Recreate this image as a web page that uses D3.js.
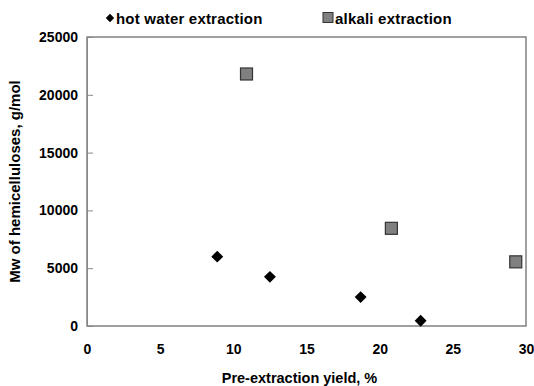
<!DOCTYPE html>
<html>
<head>
<meta charset="utf-8">
<script src="https://cdn.jsdelivr.net/npm/d3@7"></script>
<style>
  body { margin: 0; background: #fff; }
  text { font-family: "Liberation Sans", Arial, sans-serif; font-weight: bold; fill: #000; }
</style>
</head>
<body>
<script>
// data
const hotWaterYield = [8.9, 12.5, 18.7, 22.8];
const hotWaterMw = [6000, 4250, 2500, 450];
const alkaliYield = [10.9, 20.8, 29.3];
const alkaliMw = [21800, 8450, 5550];
const xTicks = [0, 5, 10, 15, 20, 25, 30];
const yTicks = [0, 5000, 10000, 15000, 20000, 25000];

const W = 534, H = 386;
const margin = { top: 37, right: 8, bottom: 60, left: 87 };
const width = W - margin.left - margin.right;
const height = H - margin.top - margin.bottom;

const svg = d3.select("body").append("svg")
  .attr("width", W)
  .attr("height", H);

const g = svg.append("g")
  .attr("transform", "translate(" + margin.left + "," + margin.top + ")");

const x = d3.scaleLinear().domain([0, 30]).range([0, width]);
const y = d3.scaleLinear().domain([0, 25000]).range([height, 0]);

// plot frame
g.append("rect")
  .attr("width", width)
  .attr("height", height)
  .attr("fill", "none")
  .attr("stroke", "#6e6e6e")
  .attr("stroke-width", 1.3);

// y axis, ticks pointing inward
const yAxis = g.append("g")
  .call(d3.axisRight(y).tickValues(yTicks).tickSize(6).tickFormat(d3.format("d")));
yAxis.select(".domain").attr("stroke", "#888");
yAxis.selectAll(".tick line").attr("stroke", "#888");
yAxis.selectAll(".tick text")
  .attr("x", -9)
  .attr("text-anchor", "end")
  .style("font-size", "14px");

// x axis, labels only
const xAxis = g.append("g")
  .attr("transform", "translate(0," + height + ")")
  .call(d3.axisBottom(x).tickValues(xTicks).tickSize(0).tickPadding(18));
xAxis.select(".domain").remove();
xAxis.selectAll(".tick text").style("font-size", "14px");

// axis titles
svg.append("text")
  .attr("x", margin.left + width / 2 - 7)
  .attr("y", 383)
  .attr("text-anchor", "middle")
  .style("font-size", "14.5px")
  .text("Pre-extraction yield, %");

svg.append("text")
  .attr("transform", "translate(20," + (margin.top + height / 2) + ") rotate(-90)")
  .attr("text-anchor", "middle")
  .style("font-size", "15px")
  .text("Mw of hemicelluloses, g/mol");

// markers
const diamond = d3.symbol().type(d3.symbolDiamond2).size(90);
g.selectAll(".hw")
  .data(hotWaterYield)
  .enter().append("path")
  .attr("class", "hw")
  .attr("d", diamond)
  .attr("transform", (d, i) => "translate(" + x(d) + "," + y(hotWaterMw[i]) + ") ")
  .attr("fill", "#000");

g.selectAll(".al")
  .data(alkaliYield)
  .enter().append("rect")
  .attr("class", "al")
  .attr("x", d => x(d) - 6)
  .attr("y", (d, i) => y(alkaliMw[i]) - 6)
  .attr("width", 12)
  .attr("height", 12)
  .attr("fill", "#808080")
  .attr("stroke", "#333")
  .attr("stroke-width", 1.2);

// legend
const legend = svg.append("g");
legend.append("path")
  .attr("d", d3.symbol().type(d3.symbolDiamond2).size(45))
  .attr("transform", "translate(110,18)")
  .attr("fill", "#000");
legend.append("text")
  .attr("x", 116)
  .attr("y", 23.5)
  .style("font-size", "15px")
  .style("letter-spacing", "0.2px")
  .text("hot water extraction");
legend.append("rect")
  .attr("x", 323).attr("y", 12.5)
  .attr("width", 10).attr("height", 10)
  .attr("fill", "#808080")
  .attr("stroke", "#333")
  .attr("stroke-width", 1);
legend.append("text")
  .attr("x", 335)
  .attr("y", 23.5)
  .style("font-size", "15px")
  .style("letter-spacing", "0.2px")
  .text("alkali extraction");
</script>
</body>
</html>
